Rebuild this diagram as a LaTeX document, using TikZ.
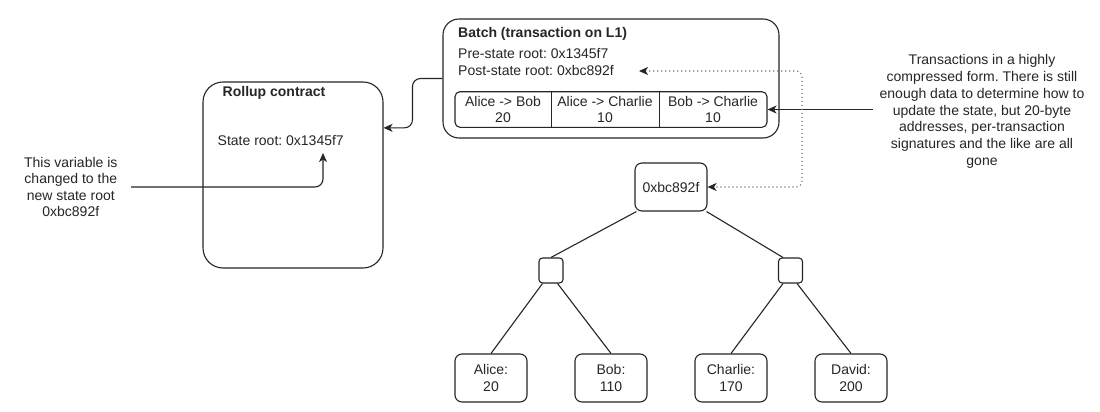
\documentclass[tikz,border=0pt]{standalone}
\usepackage{fontspec}
\setmainfont{Liberation Sans}
\usetikzlibrary{arrows.meta,calc}
\begin{document}
\frenchspacing
\begin{tikzpicture}[x=1pt,y=-1pt,
  font=\fontsize{14}{16.6}\selectfont,
  every node/.style={text=black!85},
  box/.style={draw=black!85, line width=1.1pt, rounded corners=#1, inner sep=0pt, align=center},
  box/.default=7pt,
  cell/.style={inner sep=0pt, minimum height=35.6pt, align=center},
  txt/.style={inner sep=0pt},
  wire/.style={draw=black!85, line width=1.1pt},
  conn/.style={draw=black!85, line width=1.1pt, -{Stealth[length=9pt,width=8pt,inset=2.5pt]}},
  dotconn/.style={draw=black!55, line width=1.1pt, dash pattern=on 1.2pt off 2.8pt,
    {Stealth[length=9pt,width=8pt,inset=2.5pt,black!85,sep=0pt]}-{Stealth[length=9pt,width=8pt,inset=2.5pt,black!85]}}
]
\fill[white] (0,0) rectangle (1100,412);
\useasboundingbox (0,0) rectangle (1100,412);

% Rollup contract
\node[box=20pt, minimum width=180pt, minimum height=186pt] (rollup) at (293,175) {};
\node[txt, anchor=base west] (rtitle) at (222.5,96.7) {\bfseries Rollup contract};
\node[txt, anchor=base west] (stroot) at (217.5,145.7) {State root: 0x1345f7};

% Batch
\node[box=16pt, minimum width=336pt, minimum height=119pt] (batch) at (611,78.5) {};
\node[txt, anchor=base west] (btitle) at (458,37.7) {\bfseries Batch (transaction on L1)};
\node[txt, anchor=base west] (pre) at (458,58.3) {Pre-state root: 0x1345f7};
\node[txt, anchor=base west] (post) at (458,76) {Post-state root: 0xbc892f};

% transactions table
\node[box=5pt, minimum width=312pt, minimum height=35.6pt] (table) at (611,109.5) {};
\node[cell, minimum width=96pt] (c1) at (503,109.5) {Alice -> Bob\\20};
\node[cell, minimum width=108pt] (c2) at (605,109.5) {Alice -> Charlie\\10};
\node[cell, minimum width=108pt] (c3) at (713,109.5) {Bob -> Charlie\\10};
\draw[wire] (c1.north east) -- (c1.south east);
\draw[wire] (c2.north east) -- (c2.south east);

% notes
\node[txt, align=center, minimum width=120.4pt] (note) at (70.8,187) {This variable is\\changed to the\\new state root\\0xbc892f};
\node[txt, align=center, minimum width=218pt, font=\fontsize{14}{16.8}\selectfont] (tnote) at (982,111.5)
  {Transactions in a highly\\compressed form. There is still\\enough data to determine how to\\update the state, but 20-byte\\addresses, per-transaction\\signatures and the like are all\\gone};

% tree
\node[box=7pt, minimum width=72pt, minimum height=48pt] (root) at (671,187) {0xbc892f};
\node[box=3.5pt, minimum width=24pt, minimum height=25pt] (nl) at (551,270.5) {};
\node[box=3.5pt, minimum width=24pt, minimum height=25pt] (nr) at (790.5,270.5) {};
\node[box=7pt, minimum width=72pt, minimum height=48pt] (alice) at (491,378) {Alice:\\20};
\node[box=7pt, minimum width=72pt, minimum height=48pt] (bob) at (611,378) {Bob:\\110};
\node[box=7pt, minimum width=72pt, minimum height=48pt] (charlie) at (731,378) {Charlie:\\170};
\node[box=7pt, minimum width=72pt, minimum height=48pt] (david) at (851,378) {David:\\200};

\draw[wire] ($(root.south west)+(2,0)$) -- (nl.north);
\draw[wire] ($(root.south east)+(-1,0)$) -- ($(nr.north west)+(5,0)$);
\draw[wire] ($(nl.south west)+(4,0)$) -- (alice.north);
\draw[wire] ($(nl.south east)+(-6,0)$) -- (bob.north);
\draw[wire] ($(nr.south west)+(5,0)$) -- (charlie.north);
\draw[wire] ($(nr.south east)+(-6,0)$) -- (david.north);

% connectors
\coordinate (rin) at (rollup.east |- table.south);
\draw[conn, rounded corners=8pt] (batch.west) -- ++(-30,0) |- (rin);

\coordinate (srin) at (323,153);
\draw[conn, rounded corners=8pt] (note.east) -| (srin);

\coordinate (tnin) at (tnote.west |- table.east);
\draw[conn] (tnin) -- (table.east);

\coordinate (pin) at (639,71);
\draw[dotconn, rounded corners=6pt] (pin) -- ++(163,0) |- (root.east);
\end{tikzpicture}
\end{document}
